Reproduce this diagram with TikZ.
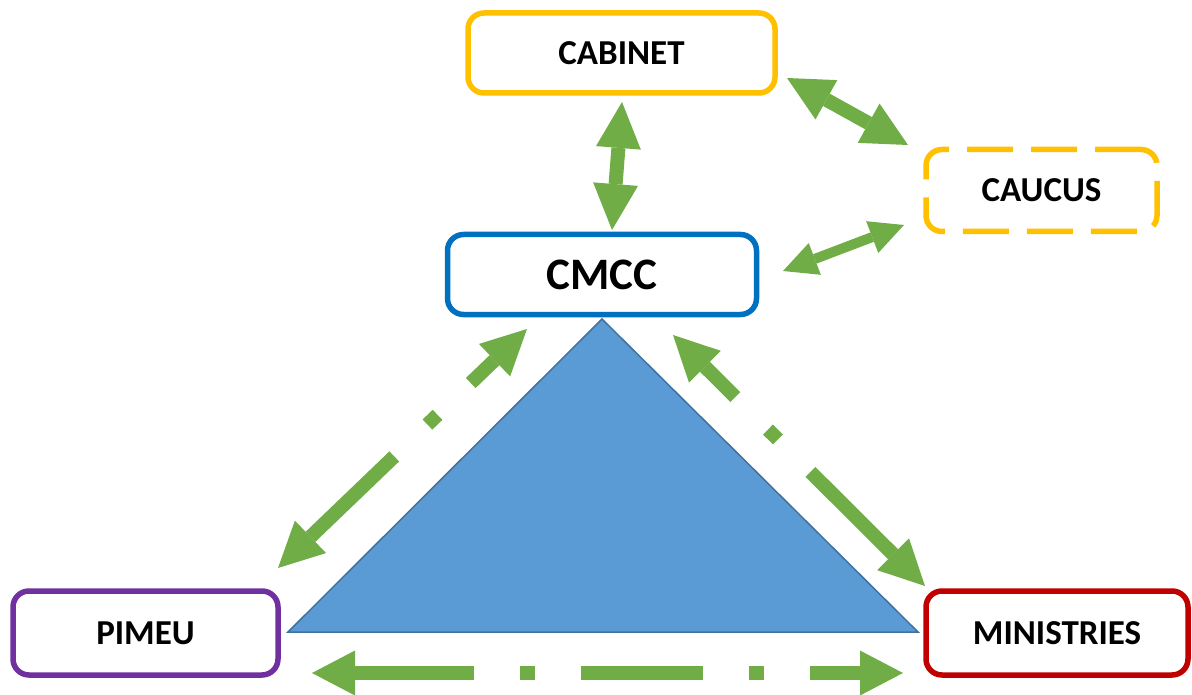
\documentclass[tikz,border=0pt]{standalone}
\usepackage{fontspec}
\setmainfont{Carlito}
\usetikzlibrary{arrows.meta}
\definecolor{cyel}{HTML}{FFC000}
\definecolor{cblue}{HTML}{0070C0}
\definecolor{cpurple}{HTML}{7030A0}
\definecolor{cred}{HTML}{C00000}
\definecolor{cgreen}{HTML}{70AD47}
\definecolor{ctri}{HTML}{5B9BD5}
\definecolor{ctriedge}{HTML}{41719C}
\begin{document}
\begin{tikzpicture}[x=1pt,y=-1pt,
  box/.style={draw, line width=5.5pt, rounded corners=16pt, inner sep=0pt, text=black,
    font=\fontsize{35}{40}\selectfont\bfseries},
  link/.style={draw=cgreen, line width=14pt,
    arrows={Triangle[length=45pt,width=45pt,line width=0pt]-Triangle[length=45pt,width=45pt,line width=0pt]}},
  smalllink/.style={draw=cgreen, line width=10pt,
    arrows={Triangle[length=34pt,width=34pt,line width=0pt]-Triangle[length=34pt,width=34pt,line width=0pt]}},
]
\useasboundingbox (0,0) rectangle (1192,695);

% triangle
\path[fill=ctri, draw=ctriedge, line width=1.5pt] (602,319) -- (288,632) -- (918,632) -- cycle;

% boxes
\node[box, draw=cyel, minimum width=307pt, minimum height=80pt] (cabinet) at (621.5,53) {CABINET};
\node[box, draw=cyel, dash pattern=on 46pt off 18pt, minimum width=231pt, minimum height=82pt] (caucus) at (1041.5,190.5) {CAUCUS};
\node[box, draw=cblue, minimum width=309pt, minimum height=80pt, font=\fontsize{45}{50}\selectfont\bfseries] (cmcc) at (602,274.5) {CMCC};
\node[box, draw=cpurple, minimum width=265pt, minimum height=84pt] (pimeu) at (145.5,633) {PIMEU};
\node[box, draw=cred, minimum width=262pt, minimum height=84pt] (ministries) at (1057,633) {MINISTRIES};

% connector end points
\coordinate (cab-s) at (622,102);
\coordinate (cmcc-n) at (612,230);
\coordinate (cab-e) at (787,78);
\coordinate (cau-nw) at (908,145);
\coordinate (cmcc-e) at (783,271);
\coordinate (cau-sw) at (904,225);
\coordinate (cmcc-sw) at (527,329);
\coordinate (pim-ne) at (278,568);
\coordinate (cmcc-se) at (673,335);
\coordinate (min-nw) at (925,586);
\coordinate (pim-s) at (312,673);
\coordinate (min-s) at (903,673);

% connectors
\draw[link, arrows={Triangle[length=46pt,width=45pt,line width=0pt]-Triangle[length=46pt,width=45pt,line width=0pt]}] (cab-s) -- (cmcc-n);
\draw[link] (cab-e) -- (cau-nw);
\draw[smalllink] (cmcc-e) -- (cau-sw);
\draw[link, dash pattern=on 33pt off 46pt on 14pt off 46pt on 300pt off 1pt] (cmcc-sw) -- (pim-ne);
\draw[link, dash pattern=on 43pt off 46pt on 14pt off 46pt on 300pt off 1pt] (cmcc-se) -- (min-nw);
\draw[link, arrows={Triangle[length=43pt,width=45pt,line width=0pt]-Triangle[length=43pt,width=45pt,line width=0pt]},
  dash pattern=on 119pt off 46pt on 15pt off 46pt on 122pt off 46pt on 15pt off 46pt on 300pt off 1pt] (pim-s) -- (min-s);
\end{tikzpicture}
\end{document}
